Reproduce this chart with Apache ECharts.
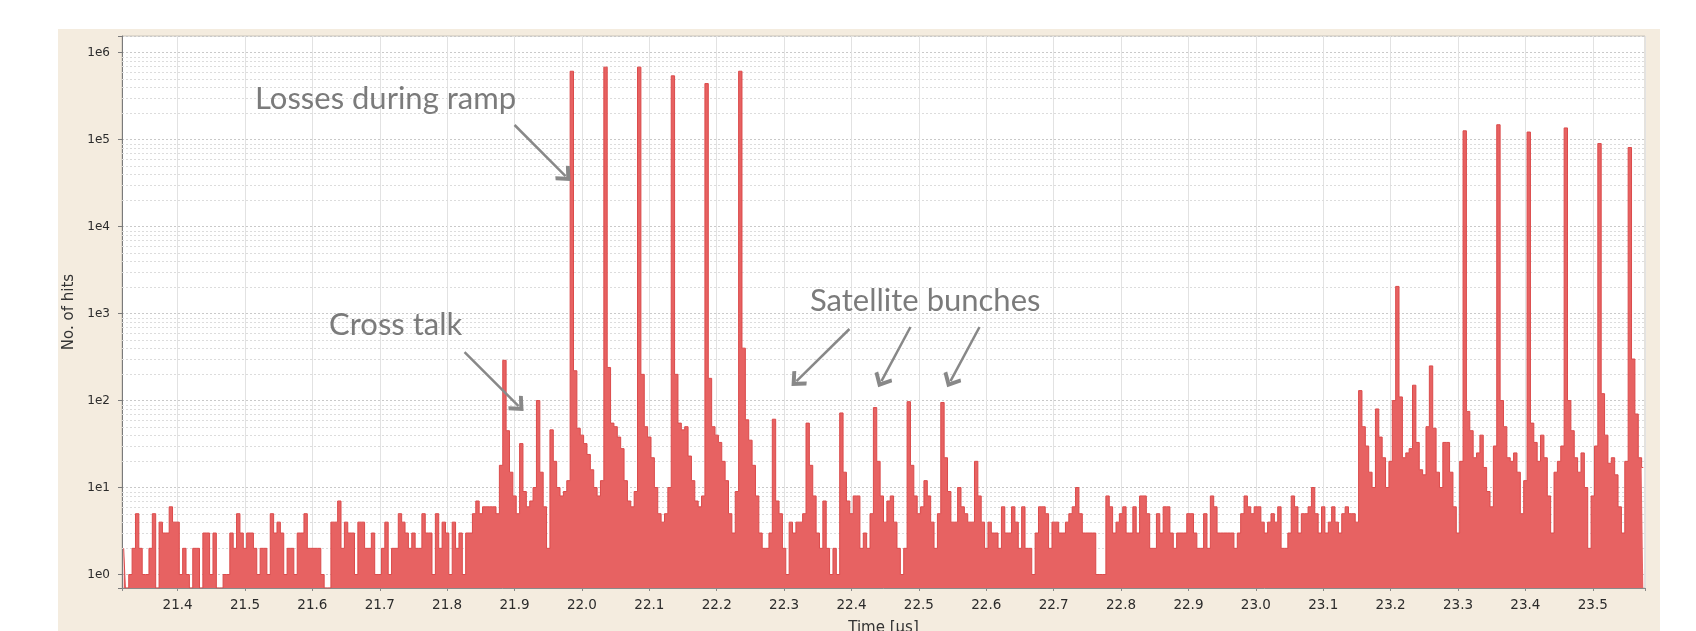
<!DOCTYPE html>
<html>
<head>
<meta charset="utf-8">
<script src="https://cdn.jsdelivr.net/npm/echarts@6/dist/echarts.min.js"></script>
<style>
html,body{margin:0;padding:0;background:#ffffff;}
#chart{width:1696px;height:631px;}
</style>
</head>
<body>
<div id="chart"></div>
<script>
// ---- data (histogram bins, 5 ns wide, first bin centred at 21.32 µs) ----
const binStart = 21.32;
const binWidth = 0.005;
const hits = [
  2,0,1,2,5,2,1,1,2,5,
  0,4,3,3,6,4,4,1,2,1,
  0,2,2,0,3,3,1,3,0,0,
  1,1,3,2,5,3,2,3,3,2,
  1,2,2,1,5,3,4,3,1,2,
  2,1,3,3,5,2,2,2,2,1,
  0,0,4,4,7,2,4,3,3,1,
  4,4,2,2,3,1,1,2,4,1,
  2,2,5,4,3,2,3,2,2,5,
  3,3,1,5,2,4,3,1,4,2,
  3,1,3,3,5,7,5,6,6,6,
  6,5,18,290,45,15,8,5,32,9,
  6,7,10,100,15,6,2,46,20,10,
  8,9,12,610000,220,48,40,32,24,16,
  10,8,12,680000,240,55,50,38,28,12,
  7,6,9,680000,200,50,38,22,10,5,
  4,5,10,540000,200,55,46,50,23,12,
  7,6,8,440000,180,50,40,33,20,12,
  5,3,9,610000,400,60,35,18,8,3,
  2,2,3,61,7,5,2,1,4,3,
  4,4,5,55,18,8,3,2,7,2,
  1,2,1,72,15,7,5,8,8,2,
  3,2,5,83,20,8,4,7,8,4,
  2,1,2,97,18,8,5,6,12,8,
  4,2,5,95,22,9,4,4,10,6,
  5,4,4,20,8,4,2,4,3,3,
  2,6,3,3,6,4,2,6,2,2,
  1,3,6,6,5,2,4,4,3,3,
  4,5,6,10,5,3,3,3,3,1,
  1,1,8,6,3,4,5,6,3,3,
  6,3,8,8,5,2,2,5,3,6,
  6,3,2,3,3,3,5,5,3,2,
  2,5,2,8,6,3,3,3,3,3,
  2,3,5,8,6,5,6,6,4,3,
  4,5,4,6,2,2,3,8,6,3,
  5,5,6,10,5,3,6,3,4,6,
  4,3,5,6,5,5,4,130,50,30,
  15,10,80,38,22,10,20,100,2050,110,
  22,25,28,150,33,16,14,50,250,48,
  15,10,33,33,15,6,3,20,126000,75,
  45,22,25,40,17,9,6,30,148000,100,
  50,22,20,25,15,5,12,122000,55,33,
  20,40,22,8,3,15,20,30,136000,100,
  45,22,15,25,10,2,8,30,90000,120,
  40,19,22,14,6,3,20,81000,300,70,
  22,17
];
const yTickLabels = ['1e0','1e1','1e2','1e3','1e4','1e5','1e6'];
const minorMultipliers = [2,3,4,5,6,7,8,9];
const decadeBases = [1,10,100,1000,10000,100000];

// annotation texts (data coordinates: time, hits)
const annotations = [
  {text: 'Losses during ramp', x: 21.5142, y: 2.92e5},
  {text: 'Cross talk',         x: 21.6240, y: 738},
  {text: 'Satellite bunches',  x: 22.3377, y: 1393}
];
// annotation arrows: [from, to] in data coordinates
const arrows = [
  [[21.9000, 1.47e5], [21.9757, 3.81e4]],
  [[21.8258, 361],    [21.9060, 86.5]],
  [[22.3970, 664],    [22.3184, 167]],
  [[22.4875, 700],    [22.4445, 167]],
  [[22.5900, 700],    [22.5469, 167]]
];

// ---- chart ----
const xMin = 21.3175, xMax = 23.5775;
const yMin = 0.7, yMax = 1.55e6;

const seriesData = hits.map((v, i) => [binStart + i * binWidth, v > 0 ? v : yMin]);
const minorValues = [];
decadeBases.forEach(b => minorMultipliers.forEach(m => minorValues.push([xMin, b * m])));

const chart = echarts.init(document.getElementById('chart'), null, {renderer: 'canvas'});

const tickFont = 'DejaVu Sans';
const chevron = 'path://M0,0 L10,11 L7.5,14 L0,6 L-7.5,14 L-10,11 Z';

chart.setOption({
  animation: false,
  backgroundColor: '#ffffff',
  graphic: [{
    type: 'rect', silent: true, z: -100,
    shape: {x: 58, y: 29, width: 1602, height: 602},
    style: {fill: '#f4ecdf'}
  }],
  grid: {
    left: 122, top: 36, right: 51, bottom: 43,
    outerBoundsMode: 'none', containLabel: false,
    show: true, backgroundColor: '#ffffff',
    borderColor: '#cbc5b8', borderWidth: 1
  },
  xAxis: {
    type: 'value', min: xMin, max: xMax, splitNumber: 20,
    axisLine: {show: true, lineStyle: {color: '#8a8a8a', width: 1}},
    axisTick: {show: true, length: 3, lineStyle: {color: '#8a8a8a'}},
    axisLabel: {
      color: '#2b2b2b', fontFamily: tickFont, fontSize: 13.5, margin: 10,
      formatter: v => {
        const r = Math.round(v * 10) / 10;
        return Math.abs(v - r) < 1e-6 ? r.toFixed(1) : '';
      }
    },
    splitLine: {show: true, lineStyle: {color: '#e2e2e2', width: 1}},
    name: 'Time [µs]', nameLocation: 'middle', nameGap: 33,
    nameTextStyle: {color: '#333333', fontFamily: tickFont, fontSize: 15}
  },
  yAxis: {
    type: 'log', logBase: 10, min: yMin, max: yMax,
    axisLine: {show: true, lineStyle: {color: '#7a7a7a', width: 1}},
    axisTick: {show: true, length: 4, lineStyle: {color: '#7a7a7a'}},
    axisLabel: {
      color: '#2b2b2b', fontFamily: tickFont, fontSize: 12, margin: 12,
      formatter: v => {
        const e = Math.log10(v);
        const r = Math.round(e);
        return (Math.abs(e - r) < 1e-9 && r >= 0 && r < yTickLabels.length) ? yTickLabels[r] : '';
      }
    },
    splitLine: {show: true, lineStyle: {color: '#c9c9c9', type: [2, 2], width: 1}},
    name: 'No. of hits', nameLocation: 'middle', nameGap: 43,
    nameTextStyle: {color: '#333333', fontFamily: tickFont, fontSize: 15}
  },
  series: [
    {
      name: 'minor grid', type: 'custom', z: 1, silent: true, clip: false,
      data: minorValues,
      encode: {x: 0, y: 1},
      renderItem: (params, api) => {
        const cs = params.coordSys;
        const y = Math.round(api.coord([api.value(0), api.value(1)])[1]) + 0.5;
        return {
          type: 'line',
          shape: {x1: cs.x, y1: y, x2: cs.x + cs.width, y2: y},
          style: {stroke: '#dcdcdc', lineWidth: 1, lineDash: [2, 2]}
        };
      }
    },
    {
      name: 'hits', type: 'line', step: 'middle', z: 2,
      symbol: 'none', showSymbol: false, sampling: null,
      data: seriesData,
      lineStyle: {color: '#db4b4b', width: 1},
      areaStyle: {color: '#e76262', opacity: 1, origin: 'start'}
    },
    {
      name: 'annotations', type: 'line', data: [], z: 5, silent: true,
      markLine: {
        silent: true, animation: false,
        symbol: ['none', chevron], symbolSize: [20, 14],
        label: {show: false},
        lineStyle: {color: '#888888', type: 'solid', width: 2.5},
        itemStyle: {color: '#888888'},
        data: arrows.map(a => [{coord: a[0]}, {coord: a[1]}])
      },
      markPoint: {
        silent: true, animation: false,
        symbol: 'circle', symbolSize: 1,
        itemStyle: {color: 'rgba(0,0,0,0)'},
        label: {
          show: true, position: 'right', distance: 0,
          color: '#7b7b7b', fontFamily: 'Lato', fontSize: 31,
          formatter: p => p.name
        },
        data: annotations.map(a => ({name: a.text, coord: [a.x, a.y]}))
      }
    }
  ]
});
</script>
</body>
</html>
